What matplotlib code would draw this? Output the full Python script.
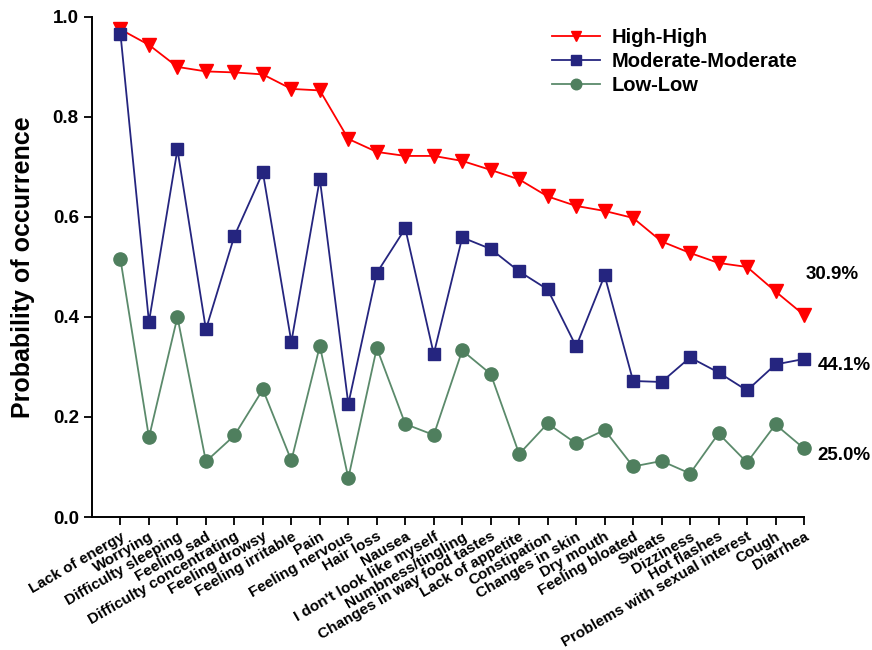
import matplotlib
matplotlib.use("Agg")
import matplotlib.pyplot as plt

plt.rcParams["font.family"] = ["Liberation Sans", "DejaVu Sans"]
plt.rcParams["font.weight"] = "bold"

# Symptoms, ordered as on the x axis
symptoms = [
    "Lack of energy", "Worrying", "Difficulty sleeping", "Feeling sad",
    "Difficulty concentrating", "Feeling drowsy", "Feeling irritable", "Pain",
    "Feeling nervous", "Hair loss", "Nausea", "I don't look like myself",
    "Numbness/tingling", "Changes in way food tastes", "Lack of appetite",
    "Constipation", "Changes in skin", "Dry mouth", "Feeling bloated", "Sweats",
    "Dizziness", "Hot flashes", "Problems with sexual interest", "Cough", "Diarrhea",
]

high_high = [0.975, 0.944, 0.900, 0.891, 0.889, 0.885, 0.856, 0.853, 0.756, 0.730,
             0.722, 0.722, 0.712, 0.694, 0.675, 0.641, 0.622, 0.612, 0.598, 0.551,
             0.528, 0.508, 0.500, 0.451, 0.404]
moderate = [0.966, 0.390, 0.735, 0.375, 0.562, 0.689, 0.350, 0.676, 0.226, 0.488,
            0.577, 0.326, 0.559, 0.536, 0.491, 0.455, 0.341, 0.483, 0.272, 0.270,
            0.319, 0.289, 0.253, 0.305, 0.316]
low_low = [0.515, 0.159, 0.400, 0.111, 0.163, 0.255, 0.113, 0.342, 0.078, 0.338,
           0.186, 0.164, 0.333, 0.286, 0.126, 0.187, 0.147, 0.174, 0.101, 0.112,
           0.087, 0.167, 0.109, 0.185, 0.137]

series_names = ["High-High", "Moderate-Moderate", "Low-Low"]
group_shares = ["30.9%", "44.1%", "25.0%"]

fig = plt.figure(figsize=(8.72, 6.5), dpi=100)
ax = fig.add_axes([0.1055, 0.2046, 0.8165, 0.7694])

x = list(range(len(symptoms)))
red = "#ff0000"
navy = "#25257f"
green = "#4f7f5e"

ax.plot(x, high_high, color=red, marker="v", markersize=9.5, linewidth=1.3,
        label=series_names[0], clip_on=False, zorder=3)
ax.plot(x, moderate, color=navy, marker="s", markersize=8.5, linewidth=1.3,
        label=series_names[1], clip_on=False, zorder=4)
ax.plot(x, low_low, color="#5b8a6b", marker="o", markersize=9.5, linewidth=1.3,
        markerfacecolor=green, markeredgecolor=green, label=series_names[2],
        clip_on=False, zorder=3)

# Group share labels next to the last point of each line
offsets = [(1.5, 29), (10, -4.5), (9.5, -5)]
for vals, txt, off in zip([high_high, moderate, low_low], group_shares, offsets):
    ax.annotate(txt, xy=(x[-1], vals[-1]), xytext=off, textcoords="offset points",
                ha="left", va="center", fontsize=13.5, fontweight="bold",
                annotation_clip=False)

ax.set_xlim(-1, len(symptoms) - 1)
ax.set_ylim(0, 1.0)
ax.set_yticks([0.0, 0.2, 0.4, 0.6, 0.8, 1.0])
ax.set_yticklabels(["0.0", "0.2", "0.4", "0.6", "0.8", "1.0"], fontsize=13.5, fontweight="bold")
ax.set_xticks(x)
ax.set_xticklabels(symptoms, rotation=30, ha="right", rotation_mode="anchor",
                   fontsize=11, fontweight="bold")
ax.set_ylabel("Probability of occurrence", fontsize=18, fontweight="bold", labelpad=13)

for side in ["top", "right"]:
    ax.spines[side].set_visible(False)
for side in ["left", "bottom"]:
    ax.spines[side].set_linewidth(1.4)
ax.tick_params(axis="both", direction="out", length=6, width=1.3)
ax.tick_params(axis="x", pad=3)

leg = ax.legend(loc="upper left", bbox_to_anchor=(0.6125, 0.985),
                bbox_transform=fig.transFigure, frameon=False,
                fontsize=14.5, handlelength=2.35, handletextpad=0.6,
                labelspacing=0.25, markerscale=0.8)
for t in leg.get_texts():
    t.set_fontweight("bold")

fig.savefig("out.png", dpi=100)
